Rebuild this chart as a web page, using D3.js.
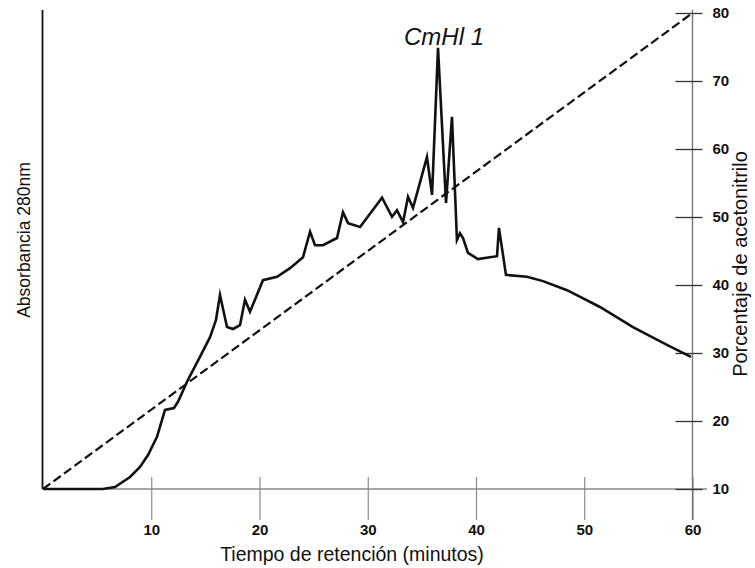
<!DOCTYPE html>
<html>
<head>
<meta charset="utf-8">
<script src="https://cdn.jsdelivr.net/npm/d3@7"></script>
<style>
  html, body { margin: 0; padding: 0; background: #fff; }
  svg { display: block; }
  text { font-family: "Liberation Sans", Arial, sans-serif; fill: #111; }
</style>
</head>
<body>
<svg id="chart" width="755" height="568"></svg>
<script>
// Retention time (min) of each traced point of the 280 nm absorbance trace
const retentionTime = [
  0, 5.54, 6.65, 8.04, 8.96, 9.70, 10.53, 11.27, 12.10, 12.47,
  13.39, 14.50, 15.43, 15.98, 16.35, 17.00, 17.55, 18.20, 18.66, 19.12,
  20.32, 21.62, 22.82, 24.02, 24.67, 25.13, 25.87, 27.16, 27.71, 28.18,
  29.29, 31.32, 32.24, 32.70, 33.26, 33.72, 34.18, 35.47, 35.94, 36.49,
  37.23, 37.78, 38.24, 38.52, 38.80, 39.26, 40.18, 41.29, 41.94, 42.12,
  42.77, 44.71, 46.19, 48.41, 51.45, 54.50, 57.64, 59.86
];
// Relative absorbance at 280 nm (arbitrary units)
const absorbance = [
  0, 0, 0.004, 0.025, 0.046, 0.071, 0.109, 0.165, 0.169, 0.182,
  0.228, 0.276, 0.317, 0.353, 0.405, 0.338, 0.334, 0.342, 0.395, 0.370,
  0.436, 0.443, 0.461, 0.484, 0.537, 0.509, 0.509, 0.524, 0.578, 0.555,
  0.547, 0.608, 0.568, 0.582, 0.557, 0.610, 0.587, 0.693, 0.614, 0.921,
  0.597, 0.777, 0.520, 0.534, 0.524, 0.493, 0.480, 0.484, 0.486, 0.545,
  0.447, 0.443, 0.434, 0.415, 0.380, 0.338, 0.301, 0.276
];
// Linear acetonitrile gradient (time, %)
const gradientTime = [0, 60];
const gradientPercent = [10, 80];

const timeTicks = [10, 20, 30, 40, 50, 60];
const percentTicks = [10, 20, 30, 40, 50, 60, 70, 80];

const peakLabel = "CmHl 1";
const xTitle = "Tiempo de retención (minutos)";
const yLeftTitle = "Absorbancia 280nm";
const yRightTitle = "Porcentaje de acetonitrilo";

const svg = d3.select("#chart");

const x = d3.scaleLinear().domain([0, 60]).range([43, 692.5]);
const yPct = d3.scaleLinear().domain([10, 80]).range([489, 13]);
const yAbs = d3.scaleLinear().domain([0, 1]).range([489, 10]);

// Bottom axis: cross ticks, grey baseline
svg.append("line")
  .attr("x1", 42.5).attr("x2", 707)
  .attr("y1", 489).attr("y2", 489)
  .attr("stroke", "#8a8a8a").attr("stroke-width", 1.6);

const xAxis = svg.append("g")
  .attr("transform", "translate(0,489)")
  .call(d3.axisBottom(x).tickValues(timeTicks).tickSize(31).tickPadding(4));
xAxis.select(".domain").remove();
xAxis.selectAll(".tick line")
  .attr("y1", -12).attr("stroke", "#8a8a8a").attr("stroke-width", 1.2);
xAxis.selectAll(".tick text")
  .attr("y", 46).attr("dy", null)
  .attr("font-family", "Liberation Sans, Arial, sans-serif")
  .attr("font-size", 15).attr("font-weight", "bold").attr("fill", "#111");

// Left axis (absorbance, unlabelled)
svg.append("line")
  .attr("x1", 42.5).attr("x2", 42.5)
  .attr("y1", 10).attr("y2", 489)
  .attr("stroke", "#111").attr("stroke-width", 1.8);

// Right axis (acetonitrile %)
svg.append("line")
  .attr("x1", x(60)).attr("x2", x(60))
  .attr("y1", 10).attr("y2", 520)
  .attr("stroke", "#777").attr("stroke-width", 1.4);

const yAxis = svg.append("g")
  .attr("transform", `translate(${x(60)},0)`)
  .call(d3.axisRight(yPct).tickValues(percentTicks).tickSize(10).tickPadding(10));
yAxis.select(".domain").remove();
yAxis.selectAll(".tick line")
  .attr("x1", -17).attr("stroke", "#333").attr("stroke-width", 1.3);
yAxis.selectAll(".tick text")
  .attr("font-family", "Liberation Sans, Arial, sans-serif")
  .attr("font-size", 15).attr("font-weight", "bold").attr("fill", "#111");

// Acetonitrile gradient (dashed)
const gradLine = d3.line()
  .x((d, i) => x(gradientTime[i]))
  .y(d => yPct(d));
svg.append("path")
  .datum(gradientPercent)
  .attr("d", gradLine)
  .attr("fill", "none")
  .attr("stroke", "#111")
  .attr("stroke-width", 2.2)
  .attr("stroke-dasharray", "9,4");

// Absorbance trace
const absLine = d3.line()
  .x((d, i) => x(retentionTime[i]))
  .y(d => yAbs(d));
svg.append("path")
  .datum(absorbance)
  .attr("d", absLine)
  .attr("fill", "none")
  .attr("stroke", "#111")
  .attr("stroke-width", 2.6)
  .attr("stroke-linejoin", "miter")
  .attr("stroke-miterlimit", 6);

// Peak label
const peakIdx = absorbance.indexOf(d3.max(absorbance));
svg.append("text")
  .attr("x", x(retentionTime[peakIdx]) + 6)
  .attr("y", 45)
  .attr("text-anchor", "middle")
  .attr("font-size", 24)
  .attr("font-style", "italic")
  .text(peakLabel);

// Axis titles
svg.append("text")
  .attr("x", 352).attr("y", 561)
  .attr("text-anchor", "middle")
  .attr("font-size", 19.5)
  .text(xTitle);

svg.append("text")
  .attr("transform", "translate(30,240) rotate(-90)")
  .attr("text-anchor", "middle")
  .attr("font-size", 17.5)
  .text(yLeftTitle);

svg.append("text")
  .attr("transform", "translate(747,264) rotate(-90)")
  .attr("text-anchor", "middle")
  .attr("font-size", 20)
  .text(yRightTitle);
</script>
</body>
</html>
